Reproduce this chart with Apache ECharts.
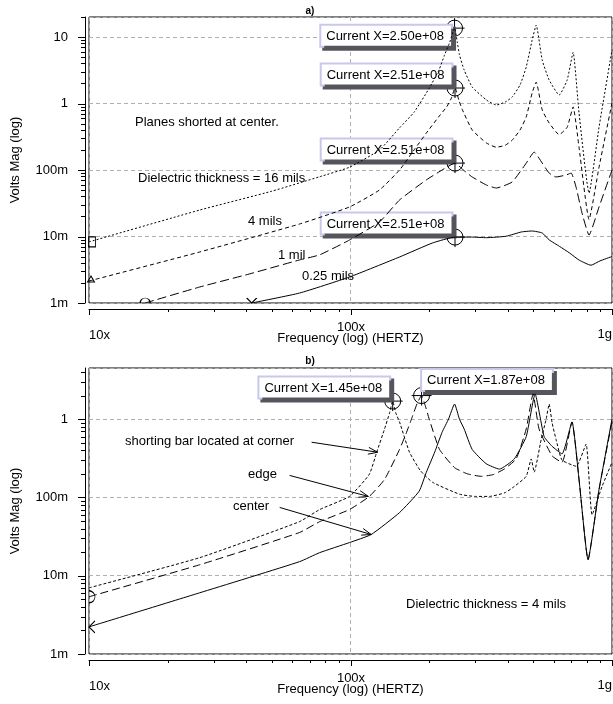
<!DOCTYPE html>
<html>
<head>
<meta charset="utf-8">
<script src="https://cdn.jsdelivr.net/npm/echarts@6/dist/echarts.min.js"></script>
<style>
  html, body { margin: 0; padding: 0; background: #fff; }
  #chart { width: 613px; height: 704px; }
</style>
</head>
<body>
<div id="chart"></div>
<script>
const FONT = '"Liberation Sans", Arial, sans-serif';

// axes
const xMajor = [1e7, 1e8, 1e9];
const xMajorLabels = ['10x', '100x', '1g'];
const xMinor = [2e7, 3e7, 4e7, 5e7, 6e7, 7e7, 8e7, 9e7, 2e8, 3e8, 4e8, 5e8, 6e8, 7e8, 8e8, 9e8];
const yMajor = [1e-3, 1e-2, 1e-1, 1, 10];
const yMajorLabels = ['1m', '10m', '100m', '1', '10'];
const yMinorA = [2e-3, 3e-3, 4e-3, 5e-3, 6e-3, 7e-3, 8e-3, 9e-3, 2e-2, 3e-2, 4e-2, 5e-2, 6e-2, 7e-2, 8e-2, 9e-2,
  0.2, 0.3, 0.4, 0.5, 0.6, 0.7, 0.8, 0.9, 2, 3, 4, 5, 6, 7, 8, 9, 20];
const yMinorB = [2e-3, 3e-3, 4e-3, 5e-3, 6e-3, 7e-3, 8e-3, 9e-3, 2e-2, 3e-2, 4e-2, 5e-2, 6e-2, 7e-2, 8e-2, 9e-2,
  0.2, 0.3, 0.4, 0.5, 0.6, 0.7, 0.8, 0.9, 2, 3, 4];

// a) planes shorted at center, various dielectric thickness
const fA16 = [1.0e7, 2.65e7, 5.0e7, 7.6e7, 9.9e7, 1.29e8, 1.54e8, 1.75e8, 2.0e8, 2.18e8, 2.29e8, 2.39e8, 2.50e8, 2.56e8, 2.61e8, 2.72e8, 2.92e8, 3.31e8, 3.61e8, 3.9e8, 4.15e8, 4.45e8, 4.70e8, 4.95e8, 5.13e8, 5.41e8, 5.75e8, 6.28e8, 6.74e8, 7.10e8, 7.48e8, 8.17e8, 8.92e8, 1.0e9];
const vA16 = [0.0083, 0.025, 0.048, 0.079, 0.11, 0.20, 0.43, 0.74, 1.7, 3.2, 5.4, 8.1, 13.6, 8.4, 5.4, 3.2, 1.77, 1.13, 0.95, 1.05, 1.25, 1.9, 3.54, 9.0, 15.1, 4.5, 2.26, 1.34, 2.26, 5.9, 0.72, 0.045, 0.44, 6.4];

const fA4 = [1.0e7, 2.65e7, 6.38e7, 9.91e7, 1.29e8, 1.54e8, 1.75e8, 1.95e8, 2.2e8, 2.33e8, 2.43e8, 2.51e8, 2.6e8, 2.68e8, 2.92e8, 3.31e8, 3.61e8, 3.9e8, 4.15e8, 4.45e8, 4.70e8, 4.95e8, 5.13e8, 5.41e8, 5.75e8, 6.28e8, 6.74e8, 7.10e8, 7.48e8, 8.17e8, 8.92e8, 1.0e9];
const vA4 = [0.00214, 0.00585, 0.0154, 0.0278, 0.05, 0.1, 0.2, 0.36, 0.67, 0.885, 1.2, 1.71, 1.1, 0.8, 0.40, 0.255, 0.22, 0.235, 0.28, 0.40, 0.63, 1.44, 2.1, 0.8, 0.51, 0.34, 0.44, 0.89, 0.22, 0.018, 0.11, 1.02];

const fA1 = [1.64e7, 2.65e7, 4.1e7, 6.38e7, 7.62e7, 9.91e7, 1.29e8, 1.54e8, 1.95e8, 2.24e8, 2.51e8, 2.7e8, 2.92e8, 3.31e8, 3.61e8, 4.15e8, 4.70e8, 5.04e8, 5.41e8, 5.75e8, 6.11e8, 6.67e8, 6.98e8, 7.29e8, 7.68e8, 8.17e8, 8.92e8, 1.0e9];
const vA1 = [0.001, 0.00174, 0.00273, 0.00444, 0.0053, 0.00885, 0.0165, 0.0354, 0.071, 0.1, 0.127, 0.1, 0.0786, 0.0594, 0.0536, 0.066, 0.127, 0.186, 0.127, 0.090, 0.0786, 0.084, 0.090, 0.055, 0.0226, 0.0105, 0.0278, 0.1];

const fA025 = [4.19e7, 6.38e7, 9.91e7, 1.54e8, 2.06e8, 2.51e8, 2.9e8, 3.31e8, 3.94e8, 4.5e8, 4.95e8, 5.41e8, 5.75e8, 6.3e8, 6.86e8, 7.5e8, 8.31e8, 9.0e8, 1.0e9];
const vA025 = [0.001, 0.00141, 0.00246, 0.00492, 0.008, 0.0098, 0.0098, 0.0096, 0.0101, 0.0117, 0.0121, 0.0113, 0.0089, 0.0071, 0.0057, 0.0044, 0.0037, 0.0043, 0.0050];

// b) 4 mils, shorting bar position
const fBcorner = [1.0e7, 2.65e7, 6.38e7, 7.62e7, 9.91e7, 1.18e8, 1.26e8, 1.35e8, 1.41e8, 1.45e8, 1.49e8, 1.54e8, 1.68e8, 1.85e8, 2.06e8, 2.61e8, 3.0e8, 3.40e8, 3.9e8, 4.23e8, 4.70e8, 4.91e8, 5.04e8, 5.36e8, 5.6e8, 5.75e8, 5.9e8, 6.11e8, 6.44e8, 7.3e8, 7.96e8, 8.39e8, 9.16e8, 1.0e9];
const vBcorner = [0.0070, 0.017, 0.049, 0.070, 0.103, 0.197, 0.38, 0.75, 1.2, 1.7, 1.2, 0.92, 0.38, 0.22, 0.156, 0.11, 0.103, 0.103, 0.115, 0.138, 0.186, 0.31, 0.21, 0.55, 1.0, 1.56, 0.9, 0.55, 0.30, 0.25, 0.48, 0.06, 0.138, 0.28];

const fBedge = [1.0e7, 2.65e7, 6.38e7, 7.62e7, 9.91e7, 1.18e8, 1.35e8, 1.54e8, 1.63e8, 1.71e8, 1.80e8, 1.87e8, 1.93e8, 2.0e8, 2.19e8, 2.50e8, 2.8e8, 3.16e8, 3.5e8, 3.87e8, 4.30e8, 4.70e8, 4.99e8, 5.26e8, 5.90e8, 6.44e8, 7.03e8, 7.48e8, 8.10e8, 8.92e8, 1.0e9];
const vBedge = [0.00538, 0.0138, 0.0356, 0.049, 0.070, 0.103, 0.17, 0.41, 0.65, 1.0, 1.6, 2.0, 1.5, 1.0, 0.41, 0.24, 0.2, 0.186, 0.195, 0.23, 0.31, 0.75, 2.1, 0.75, 0.34, 0.28, 0.92, 0.17, 0.016, 0.126, 0.92];

const fBcenter = [1.0e7, 2.65e7, 6.38e7, 7.62e7, 9.91e7, 1.20e8, 1.54e8, 1.83e8, 1.95e8, 2.1e8, 2.24e8, 2.37e8, 2.50e8, 2.61e8, 2.72e8, 2.92e8, 3.3e8, 3.71e8, 4.23e8, 4.70e8, 5.08e8, 5.50e8, 5.90e8, 6.44e8, 7.03e8, 7.48e8, 8.10e8, 8.92e8, 1.0e9];
const vBcenter = [0.00222, 0.00605, 0.0151, 0.0197, 0.0265, 0.0336, 0.064, 0.12, 0.21, 0.38, 0.68, 1.0, 1.56, 1.0, 0.75, 0.41, 0.27, 0.23, 0.31, 0.60, 2.1, 0.60, 0.45, 0.36, 0.92, 0.17, 0.016, 0.126, 1.0];

// probe cursor frequencies
const cursorA = [2.50e8, 2.51e8, 2.51e8, 2.51e8];
const cursorB = [1.45e8, 1.87e8];

// arrows in panel b: from -> to, in (Hz, V)
const arrowFrom = [[7.1e7, 0.507], [5.85e7, 0.191], [5.36e7, 0.0745]];
const arrowTo = [[1.27e8, 0.378], [1.17e8, 0.103], [1.20e8, 0.0336]];

const CROSS = 'path://M-8,0A8,8,0,1,1,8,0A8,8,0,1,1,-8,0ZM-10,0L10,0M0,-10L0,10';
const HOLLOW = { color: 'rgba(0,0,0,0)', borderColor: '#000', borderWidth: 1 };

const chart = echarts.init(document.getElementById('chart'), null, { renderer: 'canvas' });

const isDecade = (v, m) => Math.abs(Math.log10(v) - Math.log10(m)) < 1e-6;

function xAxis(g) {
  return {
    type: 'log', gridIndex: g, min: 1e7, max: 1e9, position: 'bottom', offset: 6,
    name: 'Frequency (log) (HERTZ)', nameLocation: 'middle', nameGap: 23,
    nameTextStyle: { fontFamily: FONT, fontSize: 13, color: '#000', verticalAlign: 'top' },
    axisLine: { show: true, onZero: false, lineStyle: { color: '#000', width: 1 } },
    axisTick: { show: false },
    axisLabel: { show: false },
    splitLine: { show: true, lineStyle: { color: '#b0b0b0', type: [4, 3], width: 1 } }
  };
}

function yAxis(g, max) {
  return {
    type: 'log', gridIndex: g, min: 1e-3, max: max, position: 'left', offset: 4,
    name: 'Volts Mag (log)', nameLocation: 'middle', nameGap: 63,
    nameTextStyle: { fontFamily: FONT, fontSize: 13, color: '#000' },
    axisLine: { show: true, onZero: false, lineStyle: { color: '#000', width: 1 } },
    axisTick: { show: false },
    axisLabel: {
      margin: 17, color: '#000', fontFamily: FONT, fontSize: 13,
      formatter: (v) => {
        const i = yMajor.findIndex(m => isDecade(v, m));
        return i < 0 ? '' : yMajorLabels[i];
      }
    },
    splitLine: { show: true, lineStyle: { color: '#b0b0b0', type: [4, 3], width: 1 } }
  };
}

const at = (fs, vs, f) => [f, vs[fs.indexOf(f)]];

function cursor(fs, vs, f, align, vAlign, offset) {
  return {
    coord: at(fs, vs, f), symbol: CROSS, symbolSize: 20, itemStyle: HOLLOW,
    label: {
      show: true, formatter: 'Current X=' + f.toExponential(2).replace('e+', 'e+0'),
      position: [10, 10], align: align, verticalAlign: vAlign, offset: offset,
      color: '#000', fontFamily: FONT, fontSize: 13, lineHeight: 15,
      backgroundColor: '#fff', borderColor: '#c8c8ec', borderWidth: 2,
      padding: [3, 7, 2, 5],
      shadowColor: '#55555c', shadowOffsetX: 3, shadowOffsetY: 3, shadowBlur: 0
    }
  };
}

function startMark(fs, vs, symbol, size, offset) {
  return { coord: [fs[0], vs[0]], symbol: symbol, symbolSize: size, symbolOffset: offset,
    itemStyle: HOLLOW, label: { show: false } };
}

function curve(name, fs, vs, g, dash, marks) {
  return {
    name: name, type: 'line', xAxisIndex: g, yAxisIndex: g,
    data: fs.map((f, i) => [f, vs[i]]),
    symbol: 'none', silent: true, animation: false, clip: true, z: 3, smooth: 0.15,
    lineStyle: { color: '#000', width: 1, type: dash },
    markPoint: { silent: true, animation: false, z: 1, data: marks }
  };
}

const series = [
  curve('16 mils', fA16, vA16, 0, [2, 2], [
    cursor(fA16, vA16, cursorA[0], 'right', 'top', [-3, -2]),
    startMark(fA16, vA16, 'rect', [7, 10], [3, 0])
  ]),
  curve('4 mils', fA4, vA4, 0, [4, 3], [
    cursor(fA4, vA4, cursorA[1], 'right', 'bottom', [-3, -3]),
    startMark(fA4, vA4, 'triangle', [7, 6], [2, -2])
  ]),
  curve('1 mil', fA1, vA1, 0, [9, 4], [
    cursor(fA1, vA1, cursorA[2], 'right', 'bottom', [-3, -3]),
    startMark(fA1, vA1, 'path://M-5,0A5,5,0,0,1,5,0', [10, 5], [0, -2.5])
  ]),
  curve('0.25 mils', fA025, vA025, 0, 'solid', [
    cursor(fA025, vA025, cursorA[3], 'right', 'bottom', [-3, -3]),
    startMark(fA025, vA025, 'path://M-5,-5L0,0L5,-5', [10, 5], [0, -2.5])
  ]),
  curve('corner', fBcorner, vBcorner, 1, [3, 2], [
    cursor(fBcorner, vBcorner, cursorB[0], 'right', 'bottom', [-3, -3])
  ]),
  curve('edge', fBedge, vBedge, 1, [8, 4], [
    cursor(fBedge, vBedge, cursorB[1], 'left', 'bottom', [1, -5]),
    startMark(fBedge, vBedge, 'path://M0,-6A6,6,0,0,1,0,6', [6, 12], [3, 0])
  ]),
  curve('center', fBcenter, vBcenter, 1, 'solid', [
    startMark(fBcenter, vBcenter, 'path://M6,-6L0,0L6,6', [6, 12], [3, 0])
  ])
];

const gridBase = { left: 89, width: 523, height: 286, show: true, borderColor: '#000', borderWidth: 1, backgroundColor: 'transparent' };

chart.setOption({
  animation: false,
  backgroundColor: '#fff',
  textStyle: { fontFamily: FONT },
  grid: [Object.assign({ top: 17 }, gridBase), Object.assign({ top: 368 }, gridBase)],
  xAxis: [xAxis(0), xAxis(1)],
  yAxis: [yAxis(0, 20), yAxis(1, 4.5)],
  series: series
});

// ticks, x tick labels, notes and arrows, placed through the axes
const graphics = [];
const crisp = (v) => Math.round(v) + 0.5;

function seg(x1, y1, x2, y2) {
  graphics.push({ type: 'line', z: 20, silent: true,
    shape: { x1: x1, y1: y1, x2: x2, y2: y2 }, style: { stroke: '#000', lineWidth: 1 } });
}

function text(str, x, y, extra) {
  graphics.push({ type: 'text', z: 20, silent: true,
    style: Object.assign({ text: str, x: x, y: y, fill: '#000', font: '13px ' + FONT, align: 'left', verticalAlign: 'middle' }, extra || {}) });
}

function axisDecor(g, yMax, yMinor) {
  const left = chart.convertToPixel({ xAxisIndex: g }, 1e7);
  const bottom = chart.convertToPixel({ yAxisIndex: g }, 1e-3);
  const axY = Math.round(bottom) + 6;
  const axX = Math.round(left) - 4;
  const labelAlign = ['left', 'center', 'right'];
  const labelDy = [26, 18, 25];
  xMajor.forEach((v, i) => {
    const x = crisp(chart.convertToPixel({ xAxisIndex: g }, v));
    seg(x, axY, x, axY + 6);
    text(xMajorLabels[i], Math.round(chart.convertToPixel({ xAxisIndex: g }, v)), axY + labelDy[i], { align: labelAlign[i] });
  });
  xMinor.forEach((v) => {
    const x = crisp(chart.convertToPixel({ xAxisIndex: g }, v));
    seg(x, axY, x, axY + 3);
  });
  yMajor.filter(v => v <= yMax).forEach((v) => {
    const y = crisp(chart.convertToPixel({ yAxisIndex: g }, v));
    seg(axX - 7, y, axX, y);
  });
  yMinor.forEach((v) => {
    const y = crisp(chart.convertToPixel({ yAxisIndex: g }, v));
    seg(axX - 4, y, axX, y);
  });
}

axisDecor(0, 20, yMinorA);
axisDecor(1, 4.5, yMinorB);

text('a)', 310, 11, { font: 'bold 10px ' + FONT, align: 'center' });
text('b)', 310, 361, { font: 'bold 10px ' + FONT, align: 'center' });
text('Planes shorted at center.', 135, 122);
text('Dielectric thickness = 16 mils', 138, 178);
text('4 mils', 248, 221);
text('1 mil', 278, 255);
text('0.25 mils', 302, 276);
text('shorting bar located at corner', 125, 441);
text('edge', 248, 474);
text('center', 233, 506);
text('Dielectric thickness = 4 mils', 406, 604);

arrowFrom.forEach((from, i) => {
  const p0 = chart.convertToPixel({ xAxisIndex: 1, yAxisIndex: 1 }, from);
  const p1 = chart.convertToPixel({ xAxisIndex: 1, yAxisIndex: 1 }, arrowTo[i]);
  const ang = Math.atan2(p1[1] - p0[1], p1[0] - p0[0]);
  const L = 10, a = 0.35;
  const h1 = [p1[0] - L * Math.cos(ang - a), p1[1] - L * Math.sin(ang - a)];
  const h2 = [p1[0] - L * Math.cos(ang + a), p1[1] - L * Math.sin(ang + a)];
  seg(p0[0], p0[1], p1[0], p1[1]);
  graphics.push({ type: 'polyline', z: 20, silent: true, shape: { points: [h1, p1, h2] }, style: { stroke: '#000', fill: 'none', lineWidth: 1 } });
});

chart.setOption({ graphic: graphics });
</script>
</body>
</html>
